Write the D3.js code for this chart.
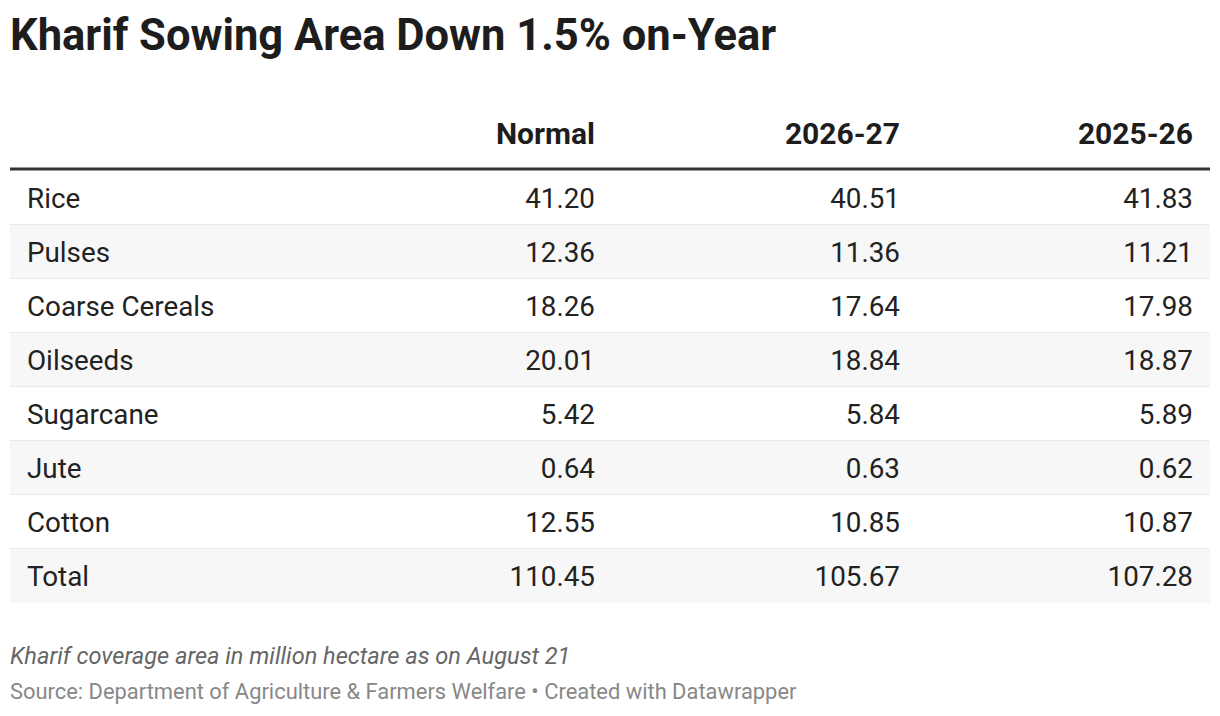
<!DOCTYPE html>
<html><head><meta charset="utf-8">
<script src="https://cdn.jsdelivr.net/npm/d3@7"></script>
<style>body{margin:0;background:#fff;font-family:Roboto,sans-serif}</style>
</head><body>
<svg id="c" width="1220" height="716"></svg>
<script>
const crops = ["Rice","Pulses","Coarse Cereals","Oilseeds","Sugarcane","Jute","Cotton","Total"];
const columns = ["Normal","2026-27","2025-26"];
const normal = ["41.20","12.36","18.26","20.01","5.42","0.64","12.55","110.45"];
const y2627 = ["40.51","11.36","17.64","18.84","5.84","0.63","10.85","105.67"];
const y2526 = ["41.83","11.21","17.98","18.87","5.89","0.62","10.87","107.28"];
const series = [normal, y2627, y2526];

const svg = d3.select("#c");
const left = 10, right = 1210;

svg.append("text").attr("x", 10).attr("y", 50)
  .attr("font-size", 43.5).attr("font-weight", 700).attr("fill", "#1d1d1d")
  .text("Kharif Sowing Area Down 1.5% on-Year");

const y = d3.scaleBand().domain(crops).range([171, 603]);
const colX = d3.scaleOrdinal().domain(columns).range([595, 900, 1193]);

// row backgrounds + separators
const rows = svg.append("g").selectAll("g").data(crops).join("g")
  .attr("transform", d => `translate(0,${y(d)})`);
rows.append("rect").attr("x", left).attr("width", right - left)
  .attr("height", y.bandwidth())
  .attr("fill", (d, i) => i % 2 === 1 ? "#f7f7f7" : "#fff");
rows.filter((d, i) => i < crops.length - 1).append("line")
  .attr("x1", left).attr("x2", right)
  .attr("y1", y.bandwidth()).attr("y2", y.bandwidth())
  .attr("stroke", "#e2e2e2").attr("stroke-width", 1.5);
rows.append("text").attr("x", 27).attr("y", y.bandwidth() / 2 + 9.5)
  .attr("font-size", 27.8).attr("fill", "#222").text(d => d);
columns.forEach((c, j) => {
  rows.append("text").attr("x", colX(c)).attr("y", y.bandwidth() / 2 + 9.5)
    .attr("text-anchor", "end").attr("font-size", 27.8).attr("fill", "#222")
    .text((d, i) => series[j][i]);
});

// header
svg.append("g").selectAll("text").data(columns).join("text")
  .attr("x", d => colX(d)).attr("y", 144).attr("text-anchor", "end")
  .attr("font-size", 30).attr("font-weight", 700).attr("fill", "#1d1d1d")
  .text(d => d);
svg.append("line").attr("x1", left).attr("x2", right).attr("y1", 169).attr("y2", 169)
  .attr("stroke", "#333").attr("stroke-width", 3);

svg.append("text").attr("x", 10).attr("y", 664).attr("font-size", 23.6)
  .attr("font-style", "italic").attr("fill", "#666")
  .text("Kharif coverage area in million hectare as on August 21");
svg.append("text").attr("x", 10).attr("y", 699).attr("font-size", 21.9)
  .attr("fill", "#888")
  .text("Source: Department of Agriculture & Farmers Welfare • Created with Datawrapper");
</script>
</body></html>
